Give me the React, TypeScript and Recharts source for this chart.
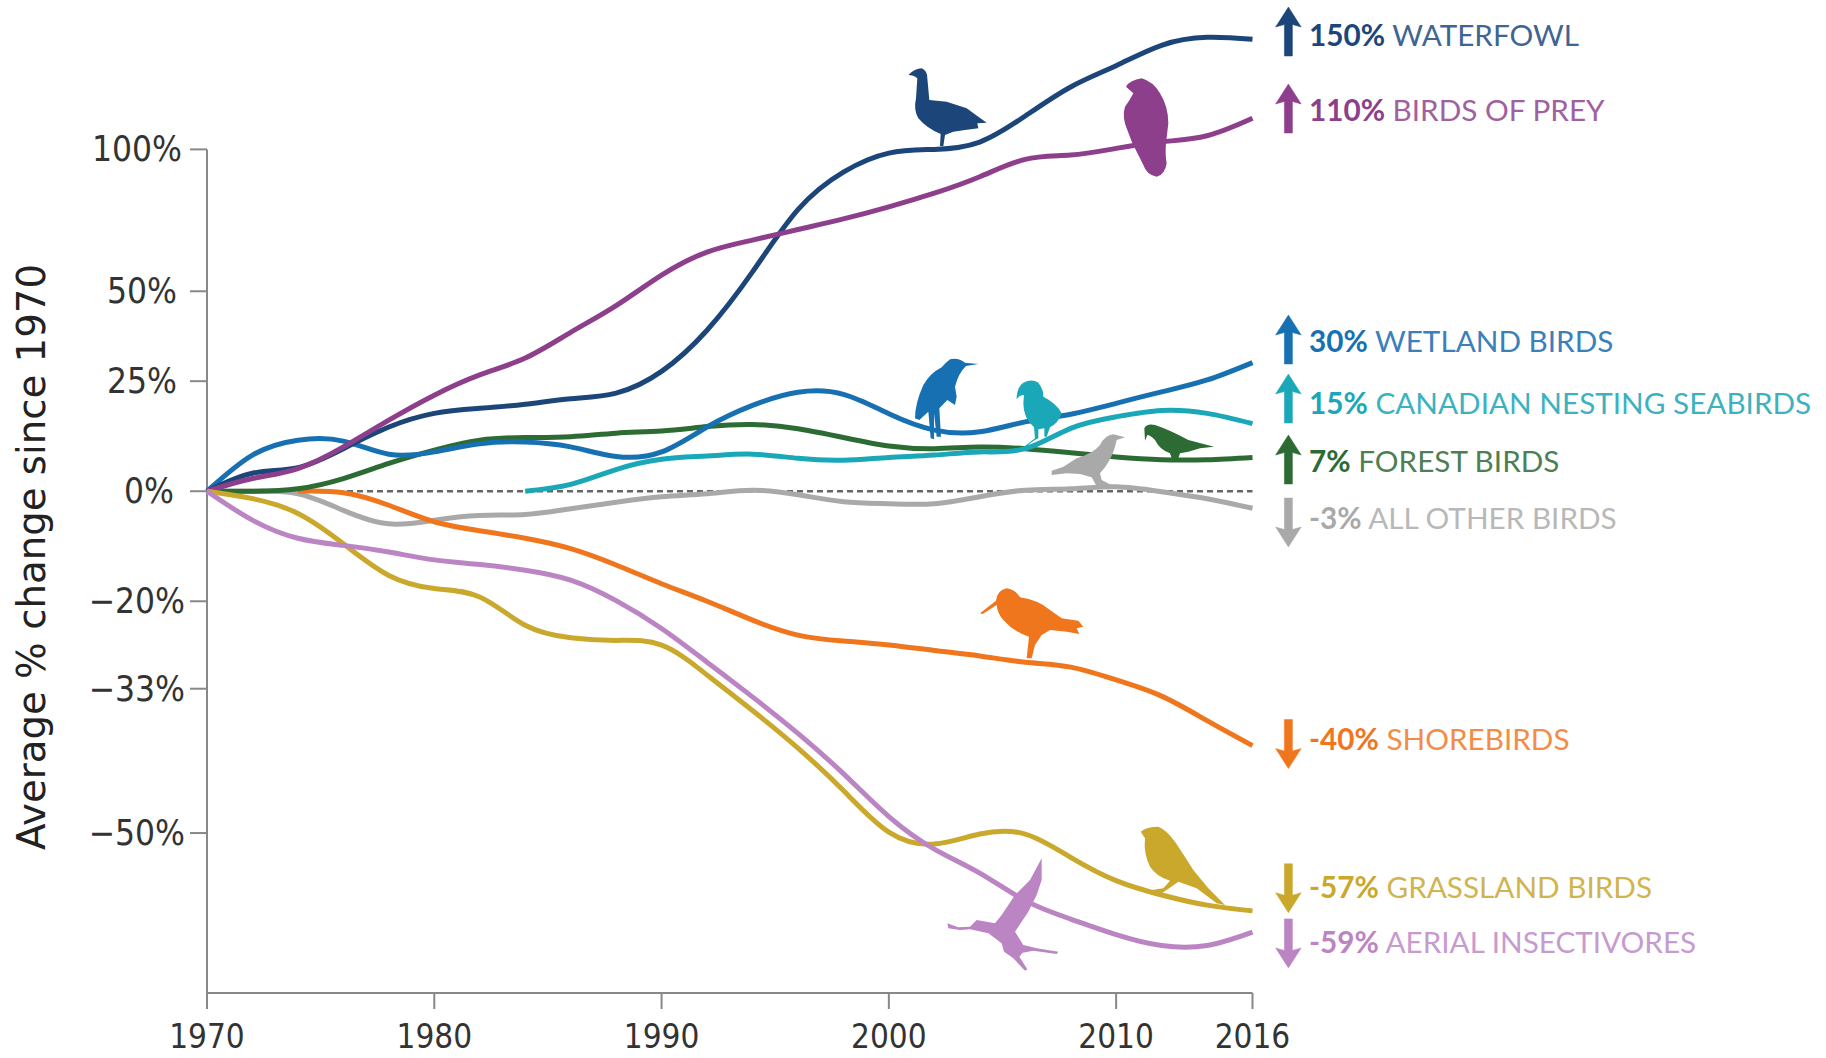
import React from "react";
import { LineChart, Line, XAxis, YAxis, ReferenceLine } from "recharts";

// Percent change since 1970, every second year
const years = [1970, 1972, 1974, 1976, 1978, 1980, 1982, 1984, 1986, 1988, 1990, 1992, 1994, 1996, 1998, 2000, 2002, 2004, 2006, 2008, 2010, 2012, 2014, 2016];
const waterfowl = [0, 3.7, 4.9, 9, 13.9, 17.1, 18.3, 19.3, 20.6, 22, 27.5, 38.6, 56, 77, 91, 98.5, 100, 103, 114, 127, 137, 147, 151, 150];
const birdsOfPrey = [0, 2.6, 4.7, 9.4, 15.5, 21.5, 26.6, 31, 38, 45.7, 55, 62.4, 66.4, 70, 73.7, 78, 83, 89.2, 96, 97.7, 100.4, 103.1, 105.6, 113];
const wetland = [0, 7.6, 10.9, 10.7, 7.8, 8.3, 10.1, 10.5, 9.4, 7.3, 8.3, 13.9, 19, 22.2, 21.7, 17, 13.2, 12.8, 15.1, 16.9, 19.5, 22.3, 25.3, 29.8];
const seabirds = [null, null, null, null, null, null, null, 0, 1.4, 4.5, 6.7, 7.4, 7.8, 6.9, 6.5, 7.1, 7.6, 8.3, 9, 13.6, 16.3, 17.8, 17.1, 14.7];
const forest = [0, 0, 0.5, 2.6, 5.8, 8.7, 10.9, 11.5, 11.7, 12.5, 13, 14, 14.5, 13.5, 11.5, 9.6, 9, 9.4, 9, 8.1, 7.2, 6.6, 6.6, 7.1];
const allOther = [0, 0, -0.5, -3.8, -6.4, -5.7, -4.8, -4.6, -3.5, -2.2, -1.1, -0.5, 0.2, -0.7, -2.1, -2.5, -2.5, -1.1, 0.2, 0.5, 0.9, -0.1, -1.5, -3.4];
const shorebirds = [null, null, 0, -0.3, -2.8, -6, -7.7, -9.1, -11, -13.9, -17.1, -20, -23, -25.3, -26.2, -26.8, -27.6, -28.4, -29.3, -30, -31.8, -34, -37.2, -40.3];
const grassland = [0, -1.5, -4.4, -10.1, -15.7, -17.9, -19.3, -23.8, -25.7, -26.1, -26.8, -31.1, -35.9, -40.6, -45.5, -49.9, -51.1, -50.1, -50.1, -52.4, -54.6, -55.9, -56.8, -57.3];
const insectivores = [0, -5.7, -9.1, -10.4, -11.6, -13, -13.8, -14.8, -16.5, -19.9, -24.3, -29.3, -34.1, -38.8, -43.6, -48.3, -51.6, -53.9, -56.4, -58, -59.3, -60.2, -60.2, -59.1];

const xTicks = [1970, 1980, 1990, 2000, 2010, 2016];
const yTickPercents = [100, 50, 25, 0, -20, -33, -50];

// the y axis is a ratio scale, so plot 100 + percent on a log axis
const toIndex = (v: number | null) => (v == null ? null : 100 + v);

const series = [
  { key: "allOther", values: allOther, color: "#a9a9a9" },
  { key: "shorebirds", values: shorebirds, color: "#f0761e" },
  { key: "forest", values: forest, color: "#2c6b33" },
  { key: "seabirds", values: seabirds, color: "#1aa8b8" },
  { key: "wetland", values: wetland, color: "#1670b2" },
  { key: "waterfowl", values: waterfowl, color: "#1c4679" },
  { key: "birdsOfPrey", values: birdsOfPrey, color: "#8d3f8c" },
  { key: "grassland", values: grassland, color: "#c9a82c" },
  { key: "insectivores", values: insectivores, color: "#bb85c3" },
];

const table = years.map((year, i) => {
  const row: Record<string, number | null> = { year };
  series.forEach((s) => {
    row[s.key] = toIndex(s.values[i]);
  });
  return row;
});

const AXIS_FONT = "'DejaVu Sans Condensed', 'DejaVu Sans', sans-serif";
const LABEL_FONT = "Lato, sans-serif";

// small nudges for the y tick labels, they are not quite right aligned in the original
const yLabelNudge: Record<number, number> = { 100: -6, 50: -11, 25: -11, 0: -14, [-20]: -3, [-33]: -3, [-50]: -3 };

function YTick({ x, y, payload }: any) {
  const pct = payload.value - 100;
  const text = pct < 0 ? `\u2212${-pct}%` : `${pct}%`;
  return (
    <text x={x + (yLabelNudge[pct] || 0)} y={y} dy={12} textAnchor="end" fontSize={35} fontFamily={AXIS_FONT} fill="#333">
      {text}
    </text>
  );
}

const endLabels = [
  { pct: "150%", name: "WATERFOWL", color: "#1c4679", text: "#3f6592", y: 35.6, top: 7, up: true },
  { pct: "110%", name: "BIRDS OF PREY", color: "#8d3f8c", text: "#a160a0", y: 110.7, top: 84, up: true },
  { pct: "30%", name: "WETLAND BIRDS", color: "#1670b2", text: "#3a80bb", y: 342, top: 315, up: true },
  { pct: "15%", name: "CANADIAN NESTING SEABIRDS", color: "#1aa8b8", text: "#3cb2bf", y: 403.5, top: 374, up: true },
  { pct: "7%", name: "FOREST BIRDS", color: "#2c6b33", text: "#4d7f53", y: 461.5, top: 435, up: true },
  { pct: "-3%", name: "ALL OTHER BIRDS", color: "#a9a9a9", text: "#b8b8b8", y: 519, top: 498, up: false },
  { pct: "-40%", name: "SHOREBIRDS", color: "#f0761e", text: "#f28d47", y: 739.5, top: 719.6, up: false },
  { pct: "-57%", name: "GRASSLAND BIRDS", color: "#c9a82c", text: "#d0b44e", y: 888, top: 863.7, up: false },
  { pct: "-59%", name: "AERIAL INSECTIVORES", color: "#bb85c3", text: "#c79bce", y: 943.3, top: 918.9, up: false },
];

function Arrow({ top, up, color }: { top: number; up: boolean; color: string }) {
  const d = "M0,0 L12.8,20 L4,17.5 L4,49 L-4,49 L-4,17.5 L-12.8,20 Z";
  const tf = up ? `translate(1288.4,${top})` : `translate(1288.4,${top + 49}) scale(1,-1)`;
  return <path d={d} transform={tf} fill={color} stroke={color} strokeWidth={0.5} strokeLinejoin="round" />;
}

const birds = [
  { color: "#1c4679", at: [890, 60], d: "M55,45 Q75,25 95,25 Q112,32 112,55 L118,120 L170,125 L230,145 L265,170 L290,188 L262,190 L265,205 L225,210 L190,215 L165,225 L160,258 L150,258 L152,222 Q110,205 85,175 Q70,150 78,115 L82,55 Q70,45 55,45 Z" },
  { color: "#8d3f8c", at: [890, 60], d: "M708,80 Q720,60 755,55 Q790,65 810,100 Q835,140 835,190 L828,250 Q825,285 830,310 Q825,345 800,350 Q770,345 760,315 L745,285 Q725,250 712,210 Q695,170 705,140 Q720,120 730,100 Z" },
  { color: "#1670b2", at: [860, 340], d: "M355,72 L315,68 Q295,52 270,58 Q255,70 245,82 Q210,100 190,135 Q165,190 165,235 L178,240 L205,215 L212,295 L222,298 L222,220 L230,290 L243,290 L238,205 L262,180 L285,195 L290,170 L285,140 Q295,100 318,78 Z" },
  { color: "#1aa8b8", at: [860, 340], d: "M470,170 Q472,140 490,128 Q515,115 535,128 Q552,150 550,170 Q590,190 605,220 Q595,250 570,262 L560,290 L553,290 L553,265 L535,268 L535,295 Q520,300 500,320 L490,322 L525,295 L522,262 Q490,235 490,190 L492,165 Q478,165 470,178 Z" },
  { color: "#a9a9a9", at: [860, 340], d: "M795,292 L760,283 Q735,285 720,315 Q700,340 650,355 L610,380 L575,392 L575,405 L620,400 L660,402 L695,412 L708,435 L700,440 L760,438 L725,420 L720,400 Q755,360 765,320 L770,300 Z" },
  { color: "#2c6b33", at: [860, 340], d: "M855,302 L853,265 Q860,250 885,255 Q930,270 985,300 L1062,320 L1020,325 L985,335 L960,340 L955,355 L935,355 L930,340 Q900,330 885,300 Q870,285 862,285 Z" },
  { color: "#f0761e", at: [960, 570], d: "M60,130 L108,92 Q112,60 140,55 Q165,58 180,82 Q235,90 270,120 L305,145 L355,152 L370,170 L350,175 L358,192 L320,185 L270,180 L245,195 L225,225 L215,265 L200,265 L207,200 Q160,185 130,150 Q112,130 110,105 L68,132 Z" },
  { color: "#c9a82c", at: [930, 810], d: "M632,65 Q650,50 685,50 Q710,60 735,95 Q765,140 790,180 L835,235 L885,285 L860,280 L800,235 L745,215 L710,240 L695,250 L665,240 L700,235 L720,212 Q680,200 660,170 Q640,130 645,85 Z" },
  { color: "#bb85c3", at: [930, 810], d: "M335,145 L335,210 L320,255 L295,305 L255,365 L280,405 L320,415 L385,425 L380,432 L310,422 L278,428 L268,440 L292,478 L285,482 L250,445 L222,425 L215,400 L175,370 L120,358 L90,360 L55,355 L52,340 L85,352 L120,350 L140,330 L195,340 L215,315 L255,255 L300,210 Z" },
];

export default function App() {
  return (
    <div style={{ position: "absolute", left: 0, top: 0, width: 1826, height: 1058, background: "#fff", overflow: "hidden" }}>
      <LineChart width={1826} height={1058} data={table} margin={{ top: 20, right: 573.5, bottom: 0, left: 0 }}>
        <XAxis
          dataKey="year"
          type="number"
          domain={[1970, 2016]}
          ticks={xTicks}
          interval={0}
          height={65}
          tickSize={16}
          tickMargin={16}
          stroke="#888"
          strokeWidth={2}
          tick={{ fontSize: 33, fontFamily: AXIS_FONT, fill: "#333" }}
        />
        <YAxis
          type="number"
          scale="log"
          domain={[36.15, 260]}
          ticks={yTickPercents.map((p) => 100 + p)}
          interval={0}
          width={207}
          tickSize={17}
          axisLine={false}
          stroke="#888"
          tickLine={{ stroke: "#888", strokeWidth: 2 }}
          tick={<YTick />}
          allowDataOverflow
        />
        <ReferenceLine segment={[{ x: 1970, y: 200 }, { x: 1970, y: 36.15 }]} stroke="#888" strokeWidth={2} />
        <ReferenceLine y={100} stroke="#666" strokeWidth={2.5} strokeDasharray="6 4" />
        {series.map((s) => (
          <Line
            key={s.key}
            dataKey={s.key}
            type="natural"
            stroke={s.color}
            strokeWidth={5}
            dot={false}
            isAnimationActive={false}
            connectNulls={false}
          />
        ))}
      </LineChart>
      <svg width={1826} height={1058} style={{ position: "absolute", left: 0, top: 0, pointerEvents: "none" }}>
        <text transform="translate(45,557) rotate(-90)" textAnchor="middle" fontSize={38.7} fontFamily="'DejaVu Sans', sans-serif" fill="#222">
          Average % change since 1970
        </text>
        {birds.map((b, i) => (
          <path key={i} d={b.d} fill={b.color} transform={`translate(${b.at[0]},${b.at[1]}) scale(${1 / 3})`} />
        ))}
        {endLabels.map((l) => (
          <g key={l.name}>
            <Arrow top={l.top} up={l.up} color={l.color} />
            <text x={1309} y={l.y + 10} fontSize={29.7} fontFamily={LABEL_FONT} fill={l.text}>
              <tspan fontWeight={700} fill={l.color}>{l.pct}</tspan>
              <tspan> {l.name}</tspan>
            </text>
          </g>
        ))}
      </svg>
    </div>
  );
}
